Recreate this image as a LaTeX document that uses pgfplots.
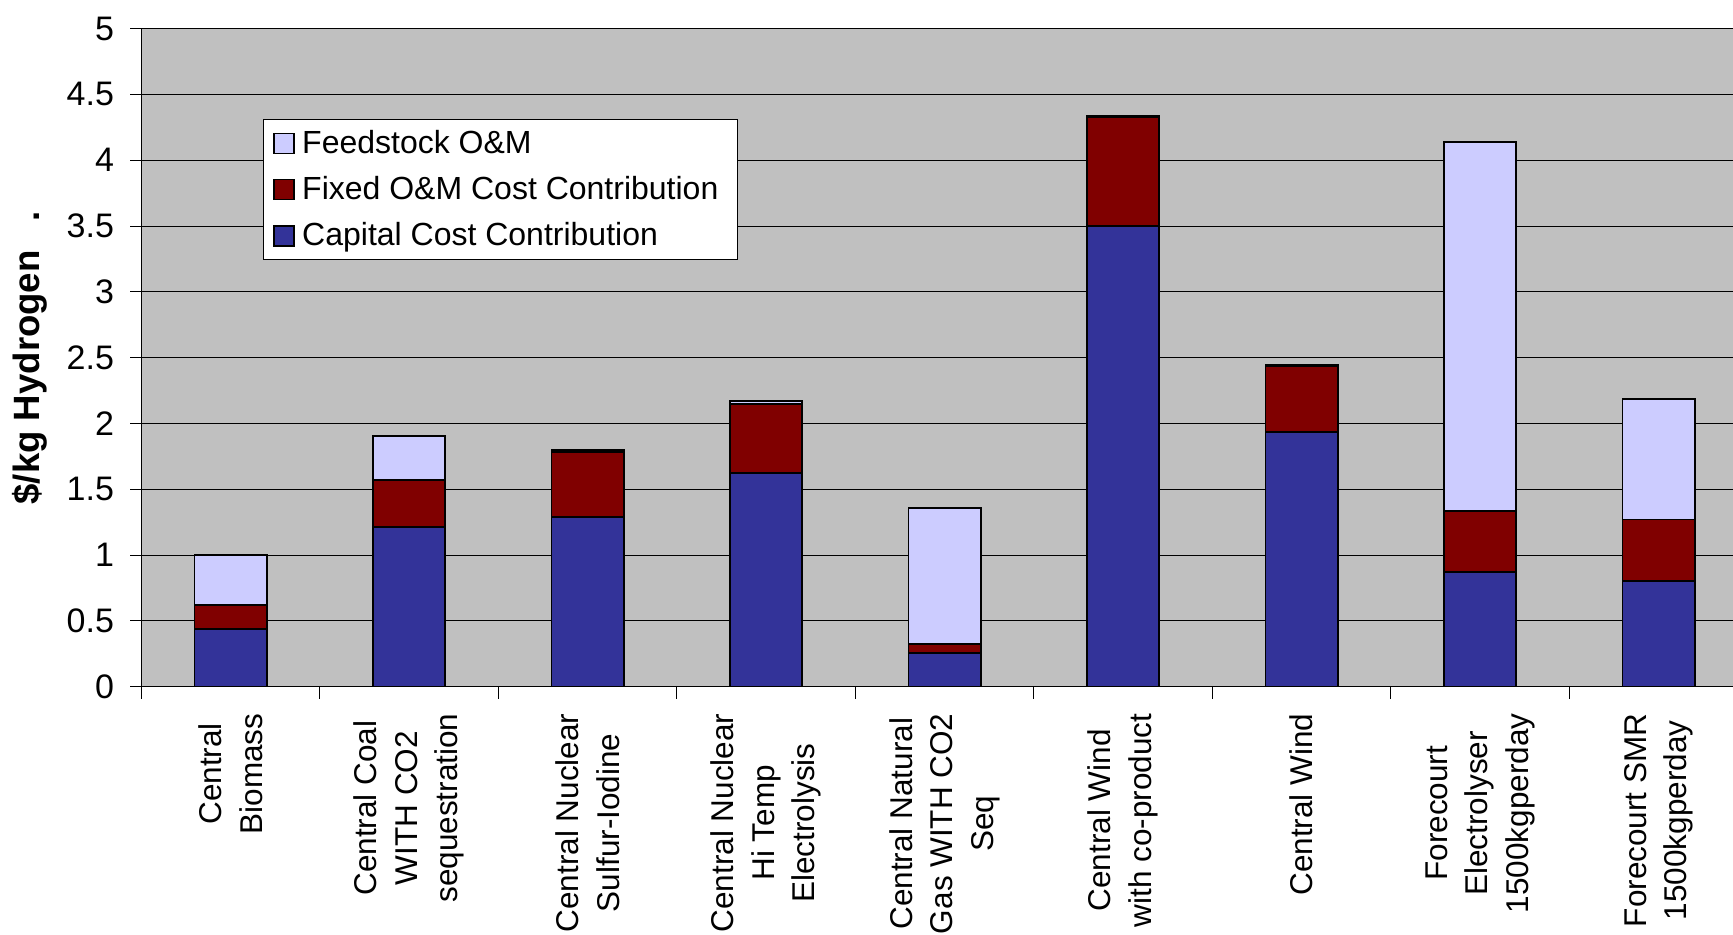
\documentclass[border=0pt]{standalone}
\usepackage{fontspec}
\setmainfont{Liberation Sans}
\usepackage{pgfplots}
\pgfplotsset{compat=1.18}
\definecolor{bgray}{HTML}{C0C0C0}
\definecolor{capc}{HTML}{333399}
\definecolor{fixc}{HTML}{800000}
\definecolor{feedc}{HTML}{CCCCFF}
\pgfplotsset{sq legend/.style={legend image code/.code={\draw[##1,draw=black,line width=0.8pt] (0pt,-5pt) rectangle (10pt,5pt);}}}
\begin{document}
\begin{tikzpicture}
\useasboundingbox (0,0) rectangle (866.5pt,467.5pt);
\begin{axis}[
  at={(70.7pt,124.15pt)}, anchor=south west,
  width=795.8pt, height=329.05pt, scale only axis,
  ybar stacked, bar width=0.405,
  xmin=-0.5, xmax=8.417,
  ymin=0, ymax=5,
  axis x line*=bottom, axis y line*=left,
  axis line style={black, line width=0.6pt},
  axis background/.style={fill=bgray},
  ytick={0,0.5,1,1.5,2,2.5,3,3.5,4,4.5,5},
  xtick={0,...,8},
  minor xtick={-0.5,0.5,1.5,2.5,3.5,4.5,5.5,6.5,7.5,8.5},
  tick align=outside,
  major tick length=5.5pt, minor tick length=6pt,
  major x tick style={draw=none},
  minor x tick style={black, line width=0.5pt},
  y tick style={black, line width=0.5pt},
  ymajorgrids,
  major grid style={black, line width=0.5pt},
  /pgf/number format/assume math mode=true,
  yticklabel style={font=\fontsize{17}{20}\selectfont, anchor=east, inner sep=0pt},
  yticklabel shift=8pt,
  xticklabels={{Central\\Biomass},{Central Coal\\WITH CO2\\sequestration},{Central Nuclear\\Sulfur-Iodine},{Central Nuclear\\Hi Temp\\Electrolysis},{Central Natural\\Gas WITH CO2\\Seq},{Central Wind\\with co-product},{Central Wind},{Forecourt\\Electrolyser\\1500kgperday},{Forecourt SMR\\1500kgperday}},
  xticklabel style={font=\fontsize{15.75}{20.3}\selectfont, rotate=90, anchor=east, align=center, inner sep=0pt},
  xticklabel shift=7.7pt,
  ylabel={\textbf{\$/kg Hydrogen\hspace{0.8em}.}},
  ylabel style={font=\fontsize{18.3}{21}\selectfont, at={(axis description cs:-0.070,0.5)}, anchor=center},
  legend style={at={(axis description cs:0.0766,0.862)}, anchor=north west,
    draw=black, line width=0.5pt, fill=white,
    font=\fontsize{16}{19}\selectfont,
    inner xsep=4.7pt, inner ysep=4.2pt, row sep=8pt, column sep=2.7pt,
    nodes={inner sep=1pt}},
  legend cell align=left,
  reverse legend,
]
\addplot[fill=capc, draw=black, line width=0.9pt, sq legend] coordinates {(0,0.436) (1,1.214) (2,1.288) (3,1.625) (4,0.259) (5,3.502) (6,1.936) (7,0.869) (8,0.803)};
\addlegendentry{\makebox[212pt][l]{Capital Cost Contribution}}
\addplot[fill=fixc, draw=black, line width=0.9pt, sq legend] coordinates {(0,0.183) (1,0.358) (2,0.494) (3,0.523) (4,0.067) (5,0.825) (6,0.497) (7,0.465) (8,0.467)};
\addlegendentry{\makebox[212pt][l]{Fixed O\&M Cost Contribution}}
\addplot[fill=feedc, draw=black, line width=0.9pt, sq legend] coordinates {(0,0.381) (1,0.334) (2,0.018) (3,0.024) (4,1.029) (5,0.012) (6,0.011) (7,2.804) (8,0.913)};
\addlegendentry{\makebox[212pt][l]{Feedstock O\&M}}
\end{axis}
\end{tikzpicture}
\end{document}
